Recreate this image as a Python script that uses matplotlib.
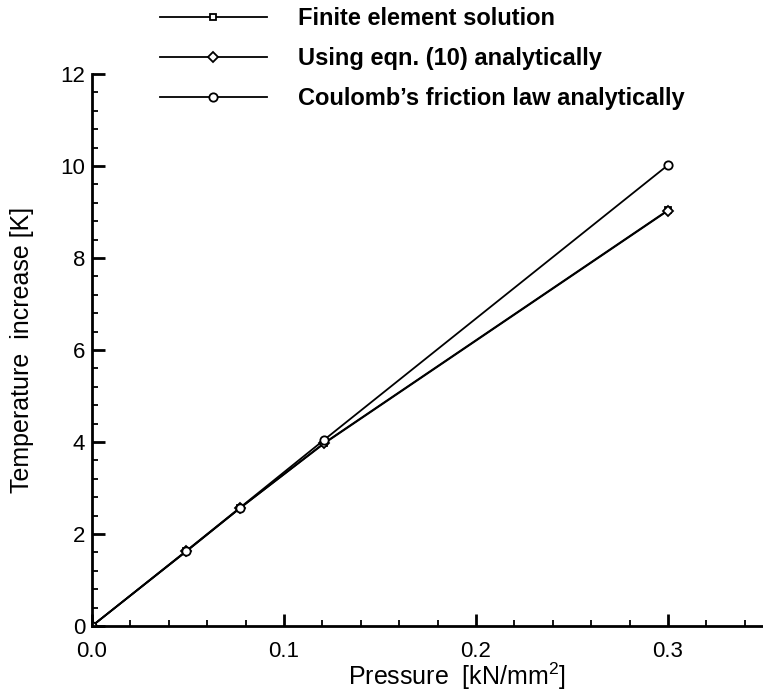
import matplotlib
matplotlib.use("Agg")
import matplotlib.pyplot as plt
from matplotlib.ticker import MultipleLocator, FormatStrFormatter

pressure = [0.0, 0.049, 0.077, 0.121, 0.300]
fe_solution = [0.0, 1.62, 2.56, 3.98, 9.04]
eqn10 = [0.0, 1.62, 2.56, 3.97, 9.03]
coulomb = [0.0, 1.63, 2.57, 4.05, 10.02]

labels = ["Finite element solution",
          "Using eqn. (10) analytically",
          "Coulomb\u2019s friction law analytically"]

plt.rcParams['font.family'] = ['Liberation Sans', 'DejaVu Sans']
plt.rcParams['mathtext.fontset'] = 'custom'
plt.rcParams['mathtext.rm'] = 'Liberation Sans'

fig = plt.figure(figsize=(7.63, 6.93), dpi=100)
W, H = 763, 693
ax = fig.add_axes([92 / W, (H - 626) / H, (764 - 92) / W, (626 - 74) / H])

style = dict(color='black', lw=1.3, markerfacecolor='white',
             markeredgecolor='black', markeredgewidth=1.3)
ax.plot(pressure, fe_solution, marker='s', markersize=5, label=labels[0], **style)
ax.plot(pressure, eqn10, marker='D', markersize=5, label=labels[1], **style)
ax.plot(pressure, coulomb, marker='o', markersize=6, label=labels[2], **style)

ax.set_xlim(0, 0.35)
ax.set_ylim(0, 12)
for s in ['top', 'right']:
    ax.spines[s].set_visible(False)
for s in ['left', 'bottom']:
    ax.spines[s].set_linewidth(2.0)

ax.xaxis.set_major_locator(MultipleLocator(0.1))
ax.xaxis.set_minor_locator(MultipleLocator(0.02))
ax.yaxis.set_major_locator(MultipleLocator(2))
ax.yaxis.set_minor_locator(MultipleLocator(0.4))
ax.xaxis.set_major_formatter(FormatStrFormatter('%.1f'))
ax.yaxis.set_major_formatter(FormatStrFormatter('%d'))
ax.tick_params(which='major', direction='in', length=9, width=2, labelsize=16)
ax.tick_params(axis='x', which='major', pad=11)
ax.tick_params(axis='y', which='major', pad=5)
ax.tick_params(which='minor', direction='in', length=4.5, width=1.3)

ax.set_xlabel("Pressure  [kN/mm$^2$]", fontsize=18)
ax.xaxis.set_label_coords((457 - 92) / (764 - 92), -(661 - 626) / (626 - 74))
ax.set_ylabel("Temperature  increase [K]", fontsize=18)
ax.yaxis.set_label_coords(-(92 - 34) / (764 - 92), 0.5)

leg = ax.legend(loc='upper left', bbox_to_anchor=(160 / W, 1 - 7 / H),
                bbox_transform=fig.transFigure, frameon=False,
                prop={'weight': 'bold', 'size': 17}, handlelength=4.53,
                handletextpad=1.3, labelspacing=0.72, borderpad=0, borderaxespad=0)

fig.savefig("out.png", dpi=100)
